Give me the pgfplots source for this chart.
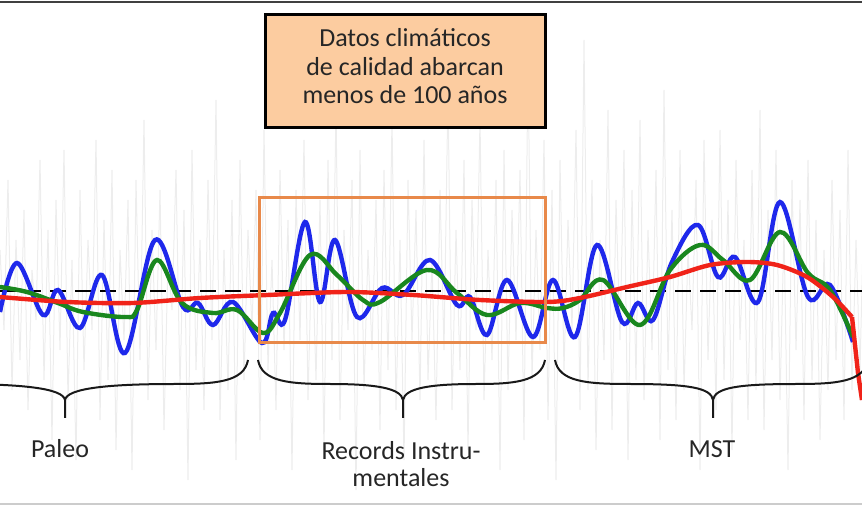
\documentclass[border=0pt]{standalone}
\usepackage{pgfplots}
\pgfplotsset{compat=1.18}
\usepackage{fontspec}
\setmainfont{Carlito}
\definecolor{cblue}{RGB}{30,40,235}
\definecolor{cgreen}{RGB}{25,135,30}
\definecolor{cred}{RGB}{240,35,25}
\definecolor{corange}{RGB}{232,137,74}
\definecolor{cpeach}{RGB}{252,204,160}
\definecolor{ctext}{RGB}{38,38,38}
\begin{document}
\begin{tikzpicture}
\begin{axis}[
 width=431pt, height=253.5pt, scale only axis,
 xmin=0, xmax=862, ymin=0, ymax=507, y dir=reverse,
 hide axis, clip=true,
]
% faint background noise
\addplot[black!7, line width=0.5pt] table[row sep=\\, x expr=\coordindex*4, y=y] {
y\\250\\330\\180\\390\\240\\360\\210\\410\\270\\320\\
160\\380\\230\\440\\200\\350\\150\\400\\260\\460\\
190\\370\\240\\330\\140\\420\\220\\380\\170\\450\\
250\\340\\200\\470\\180\\360\\120\\400\\230\\350\\
190\\430\\260\\310\\170\\390\\210\\480\\150\\370\\
240\\410\\180\\340\\100\\420\\250\\390\\200\\460\\
160\\380\\230\\330\\190\\440\\130\\370\\260\\410\\
170\\350\\220\\470\\190\\340\\140\\400\\240\\380\\
200\\450\\160\\360\\110\\420\\230\\330\\180\\490\\
150\\390\\250\\350\\200\\430\\170\\370\\120\\410\\
240\\460\\180\\340\\210\\400\\140\\380\\260\\420\\
190\\350\\90\\410\\230\\370\\160\\450\\200\\330\\
120\\400\\250\\360\\180\\470\\150\\390\\210\\340\\
170\\440\\60\\380\\230\\350\\140\\420\\190\\480\\
160\\370\\220\\330\\130\\410\\40\\390\\180\\450\\
240\\360\\110\\430\\200\\340\\150\\460\\190\\380\\
120\\400\\230\\350\\170\\440\\90\\370\\210\\420\\
150\\390\\250\\330\\180\\470\\140\\360\\220\\410\\
130\\380\\200\\450\\160\\340\\240\\420\\170\\390\\
110\\430\\210\\360\\150\\400\\230\\470\\180\\350\\
200\\420\\160\\380\\220\\440\\250\\390\\180\\360\\
210\\420\\150\\390\\240\\370\\200\\410\\
};
% reference line
\addplot[black, line width=1.2pt, dash pattern=on 8pt off 4.5pt] coordinates {(0,291) (862,291)};
% blue
\addplot[cblue, line width=2.2pt, smooth, tension=0.6] coordinates {
(0,312) (17,263) (43,315) (58,290) (80,328) (102,275) (125,353) (155,240)
(183,307) (198,303) (213,325) (233,302) (262,343) (273,313) (285,320)
(305,222) (320,302) (335,240) (357,317) (382,288) (403,295) (430,260)
(457,305) (470,297) (487,335) (507,280) (533,337) (553,280) (575,337)
(597,245) (622,322) (638,303) (653,320) (672,262) (698,225) (718,277)
(735,257) (758,302) (780,202) (808,297) (830,285) (853,342)
};
% green
\addplot[cgreen, line width=2.2pt, smooth, tension=0.6] coordinates {
(0,287) (27,292) (58,303) (83,312) (125,317) (137,310) (157,260) (182,303)
(213,313) (237,310) (263,333) (280,313) (310,255) (337,275) (363,300)
(380,302) (427,270) (457,293) (487,315) (520,303) (547,308) (563,308)
(580,300) (603,280) (640,325) (670,270) (700,245) (723,260) (750,280)
(780,232) (808,273) (830,290) (853,337)
};
% red
\addplot[cred, line width=2.2pt, smooth] coordinates {
(0,297) (67,302) (133,303) (200,298) (267,295) (347,292) (413,295)
(480,300) (547,302) (580,298) (627,287) (670,277) (710,265) (747,262)
(777,265) (807,277) (833,297) (852,317)
};
\addplot[cred, line width=2.2pt] coordinates {(852,317) (858,373) (862,400)};
% orange box
\draw[corange, line width=1.5pt] (259,198) rectangle (545,343);
% top box
\draw[black, line width=1.5pt, fill=cpeach] (265,15) rectangle (545,128);
\node[anchor=base, font=\fontsize{13pt}{14pt}\selectfont, text=ctext] at (405,47) {Datos climáticos};
\node[anchor=base, font=\fontsize{13pt}{14pt}\selectfont, text=ctext] at (405,76) {de calidad abarcan};
\node[anchor=base, font=\fontsize{13pt}{14pt}\selectfont, text=ctext] at (405,104) {menos de 100 años};
% braces
\draw[black!90, line width=1pt] (-118,360) .. controls (-114,382) and (-86,384) .. (-45,384) .. controls (20,384) and (63,388) .. (65,400) -- (65,418);
\draw[black!90, line width=1pt] (248,360) .. controls (244,382) and (216,384) .. (175,384) .. controls (110,384) and (67,388) .. (65,400);
\draw[black!90, line width=1pt] (258,360) .. controls (262,382) and (290,384) .. (330,384) .. controls (375,384) and (401,388) .. (403,400) -- (403,418);
\draw[black!90, line width=1pt] (545,360) .. controls (541,382) and (513,384) .. (476,384) .. controls (431,384) and (405,388) .. (403,400);
\draw[black!90, line width=1pt] (555,360) .. controls (559,382) and (587,384) .. (630,384) .. controls (690,384) and (711,388) .. (713,400) -- (713,418);
\draw[black!90, line width=1pt] (868,360) .. controls (864,382) and (836,384) .. (796,384) .. controls (736,384) and (715,388) .. (713,400);
% labels
\node[anchor=base, font=\fontsize{13pt}{14pt}\selectfont, text=ctext] at (60,458) {Paleo};
\node[anchor=base, font=\fontsize{13pt}{14pt}\selectfont, text=ctext] at (401,459) {Records Instru-};
\node[anchor=base, font=\fontsize{13pt}{14pt}\selectfont, text=ctext] at (401,487) {mentales};
\node[anchor=base, font=\fontsize{13pt}{14pt}\selectfont, text=ctext] at (712,458) {MST};
% frame lines
\draw[black!75, line width=0.9pt] (0,2) -- (862,2);
\draw[black!20, line width=1pt] (0,504) -- (862,504);
\coordinate (BL) at (0,507);
\coordinate (TR) at (862,0);
\end{axis}
\pgfresetboundingbox
\path[use as bounding box] (BL) rectangle (TR);
\end{tikzpicture}
\end{document}
